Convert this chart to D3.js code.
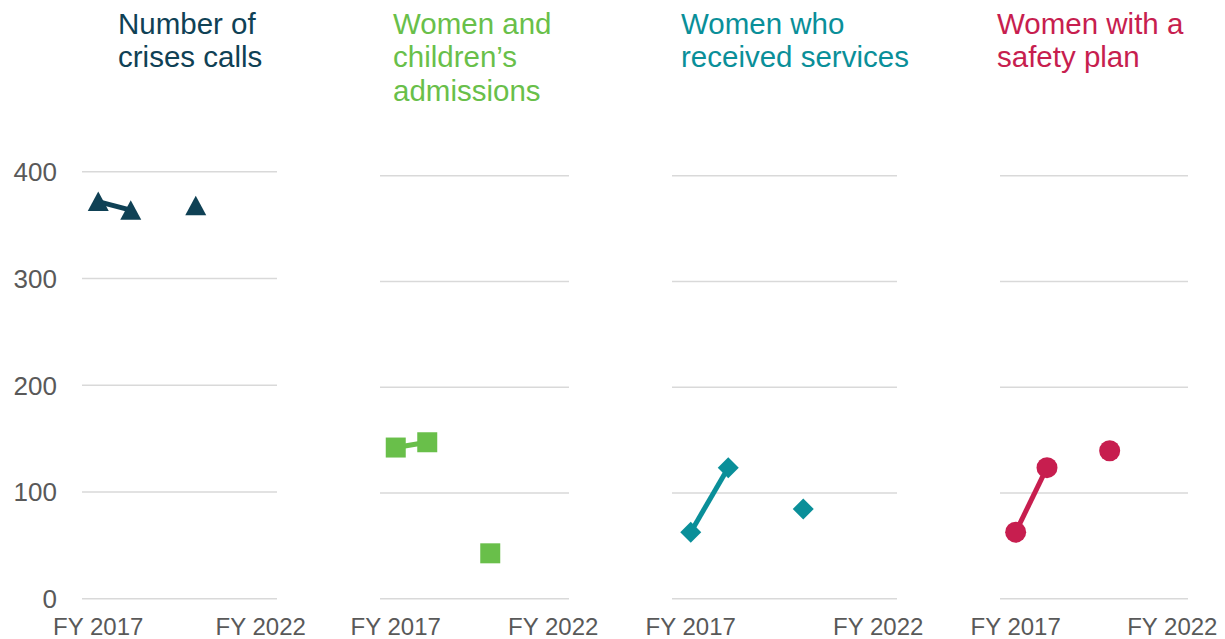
<!DOCTYPE html>
<html>
<head>
<meta charset="utf-8">
<script src="https://cdn.jsdelivr.net/npm/d3@7"></script>
<style>
  html, body { margin: 0; padding: 0; background: #ffffff; }
  svg { display: block; font-family: "Liberation Sans", Arial, sans-serif; }
</style>
</head>
<body>
<svg id="chart" width="1225" height="639"></svg>
<script>
// ---- Data ----
const years = ["FY 2017", "FY 2018", "FY 2019", "FY 2020", "FY 2021", "FY 2022"];
const xTickLabels = ["FY 2017", "FY 2022"];
const yTicks = [0, 100, 200, 300, 400];

const panelTitles = [
  ["Number of", "crises calls"],
  ["Women and", "children\u2019s", "admissions"],
  ["Women who", "received services"],
  ["Women with a", "safety plan"]
];
const crisesCalls     = [372, 364, null, 368, null, null];
const admissions      = [143, 148, null, 43, null, null];
const receivedServices = [63, 124, null, 85, null, null];
const safetyPlan      = [63, 124, null, 140, null, null];
const seriesValues = [crisesCalls, admissions, receivedServices, safetyPlan];
const seriesColors = ["#0f4155", "#69bf4a", "#0a8f99", "#c71e4f"];
const seriesMarkers = ["triangle", "square", "diamond", "circle"];

// ---- Layout ----
const panels = [
  { x0: 82,  x1: 277,  yTop: 171.7, titleX: 118 },
  { x0: 380, x1: 569,  yTop: 175.7, titleX: 393 },
  { x0: 672, x1: 897,  yTop: 175.7, titleX: 681 },
  { x0: 1000, x1: 1188, yTop: 175.7, titleX: 997 }
];
const yZero = 598.8;

const svg = d3.select("#chart");

function markerPath(type, cx, cy) {
  const h = 10.5;
  if (type === "triangle") {
    return `M${cx},${cy - 10}L${cx + 10.5},${cy + 9.5}L${cx - 10.5},${cy + 9.5}Z`;
  } else if (type === "square") {
    const s = 10;
    return `M${cx - s},${cy - s}h${2 * s}v${2 * s}h${-2 * s}Z`;
  } else if (type === "diamond") {
    return `M${cx},${cy - h}L${cx + h},${cy}L${cx},${cy + h}L${cx - h},${cy}Z`;
  }
  return null;
}

panels.forEach((p, i) => {
  const x = d3.scaleBand().domain(years).range([p.x0, p.x1]).padding(0);
  const y = d3.scaleLinear().domain([0, 400]).range([yZero, p.yTop]);
  const g = svg.append("g");

  // gridlines
  g.selectAll("line.grid").data(yTicks).enter().append("line")
    .attr("x1", p.x0).attr("x2", p.x1)
    .attr("y1", d => y(d)).attr("y2", d => y(d))
    .attr("stroke", "#d9d9d9").attr("stroke-width", 1.5);

  // y-axis labels on first panel only
  if (i === 0) {
    g.selectAll("text.ylab").data(yTicks).enter().append("text")
      .attr("x", 57).attr("y", d => y(d))
      .attr("dy", "0.36em")
      .attr("text-anchor", "end")
      .attr("font-size", 26)
      .attr("fill", "#595959")
      .text(d => d);
  }

  // x-axis labels
  g.selectAll("text.xlab").data(xTickLabels).enter().append("text")
    .attr("x", d => x(d) + x.bandwidth() / 2)
    .attr("y", 635)
    .attr("text-anchor", "middle")
    .attr("font-size", 24)
    .attr("fill", "#595959")
    .text(d => d);

  // title
  const t = g.append("text")
    .attr("x", p.titleX).attr("y", 34)
    .attr("font-size", 29.5)
    .attr("fill", seriesColors[i]);
  panelTitles[i].forEach((line, k) => {
    t.append("tspan").attr("x", p.titleX).attr("y", 34 + k * 33.3).text(line);
  });

  const vals = seriesValues[i];
  const pts = years.map((yr, k) => ({ yr, v: vals[k] }));

  // line (gaps for nulls)
  const line = d3.line()
    .defined(d => d.v !== null)
    .x(d => x(d.yr) + x.bandwidth() / 2)
    .y(d => y(d.v));
  g.append("path").datum(pts)
    .attr("d", line)
    .attr("fill", "none")
    .attr("stroke", seriesColors[i])
    .attr("stroke-width", 5);

  // markers
  const valid = pts.filter(d => d.v !== null);
  if (seriesMarkers[i] === "circle") {
    g.selectAll("circle.m").data(valid).enter().append("circle")
      .attr("cx", d => x(d.yr) + x.bandwidth() / 2)
      .attr("cy", d => y(d.v))
      .attr("r", 10.5)
      .attr("fill", seriesColors[i]);
  } else {
    g.selectAll("path.m").data(valid).enter().append("path")
      .attr("d", d => markerPath(seriesMarkers[i], x(d.yr) + x.bandwidth() / 2, y(d.v)))
      .attr("fill", seriesColors[i]);
  }
});
</script>
</body>
</html>
